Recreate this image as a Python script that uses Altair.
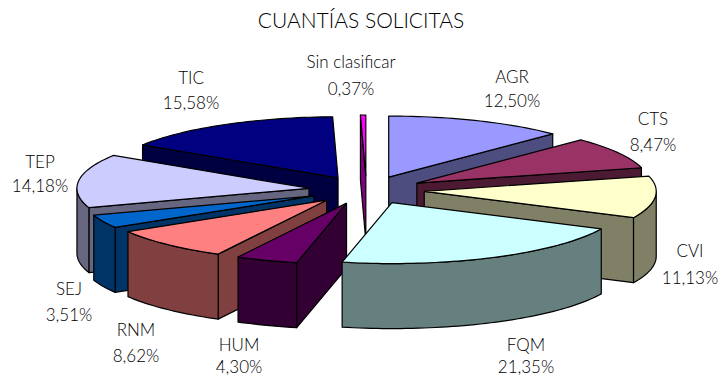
import math
import altair as alt
import pandas as pd

TITLE = "CUANTÍAS SOLICITAS"
categories = ["AGR", "CTS", "CVI", "FQM", "HUM", "RNM", "SEJ", "TEP", "TIC", "Sin clasificar"]
shares = [12.50, 8.47, 11.13, 21.35, 4.30, 8.62, 3.51, 14.18, 15.58, 0.37]
pct_labels = ["12,50%", "8,47%", "11,13%", "21,35%", "4,30%", "8,62%", "3,51%", "14,18%", "15,58%", "0,37%"]
top_colors = ["#9999FF", "#993366", "#FFFFCC", "#CCFFFF", "#660066", "#FF8080", "#0066CC", "#CCCCFF", "#000080", "#FF00FF"]
side_colors = ["#4D4D80", "#4D1A33", "#808066", "#668080", "#330033", "#804040", "#003366", "#666680", "#000040", "#800080"]

# Pie projection (orthographic ellipse), page pixel space
CX, CY = 366.5, 190
RX, RY = 232, 61
EX, EY = 58, 14
DEPTH = 65
DRAW_ORDER = [0, 8, 9, 1, 7, 2, 6, 5, 4, 3]
LABEL_POS = {  # centre x, name y, pct y
    "AGR": (512, 78, 102), "CTS": (653, 120, 146), "CVI": (690, 252, 279),
    "FQM": (526, 346, 368), "HUM": (239, 346, 368), "RNM": (136, 331, 357),
    "SEJ": (69, 290, 316), "TEP": (40, 163, 187), "TIC": (191, 79, 104),
    "Sin clasificar": (351, 63, 90),
}

total = sum(shares)
xs = alt.Scale(domain=[8, 720], range=[0, 712], nice=False, zero=False)
ys = alt.Scale(domain=[8, 377], range=[0, 369], nice=False, zero=False)


def poly(points, fill):
    pts = list(points) + [points[0]]
    df = pd.DataFrame({"px": [p[0] for p in pts], "py": [p[1] for p in pts], "i": range(len(pts))})
    return alt.Chart(df).mark_line(fill=fill, stroke="black", strokeWidth=1.2, strokeJoin="round", clip=False).encode(
        x=alt.X("px:Q", scale=xs, axis=None),
        y=alt.Y("py:Q", scale=ys, axis=None),
        order="i:Q",
    )


layers = []
starts = [sum(shares[:i]) / total * 2 * math.pi for i in range(len(shares))]
for idx in DRAW_ORDER:
    t1 = starts[idx]
    t2 = t1 + shares[idx] / total * 2 * math.pi
    mid = (t1 + t2) / 2
    ax, ay = CX + EX * math.sin(mid), CY - EY * math.cos(mid)
    rim = lambda t: (ax + RX * math.sin(t), ay - RY * math.cos(t))
    down = lambda p: (p[0], p[1] + DEPTH)
    steps = max(4, int((t2 - t1) * 40))
    arc = [t1 + (t2 - t1) * k / steps for k in range(steps + 1)]
    if math.sin(t1) < -1e-6:
        p = rim(t1)
        layers.append(poly([(ax, ay), p, down(p), (ax, ay + DEPTH)], side_colors[idx]))
    if math.sin(t2) > 1e-6:
        p = rim(t2)
        layers.append(poly([(ax, ay), p, down(p), (ax, ay + DEPTH)], side_colors[idx]))
    lo, hi = max(t1, math.pi / 2), min(t2, 3 * math.pi / 2)
    if hi > lo:
        n = max(3, int((hi - lo) * 40))
        near = [lo + (hi - lo) * k / n for k in range(n + 1)]
        upper = [rim(t) for t in near]
        layers.append(poly(upper + [down(p) for p in reversed(upper)], side_colors[idx]))
    layers.append(poly([(ax, ay)] + [rim(t) for t in arc], top_colors[idx]))

rows = [{"tx": 361, "ty": 22, "label": TITLE, "size": 21}]
for cat, pct in zip(categories, pct_labels):
    x, y1, y2 = LABEL_POS[cat]
    rows.append({"tx": x, "ty": y1, "label": cat, "size": 17})
    rows.append({"tx": x, "ty": y2, "label": pct, "size": 17})

text = alt.Chart(pd.DataFrame(rows)).mark_text(
    font="Lato", fontWeight=300, color="#000000", align="center", baseline="middle", clip=False
).encode(
    x=alt.X("tx:Q", scale=xs, axis=None),
    y=alt.Y("ty:Q", scale=ys, axis=None),
    text="label:N",
    size=alt.Size("size:Q", scale=None, legend=None),
)

chart = alt.layer(*layers, text).properties(
    width=712, height=369, padding=0, autosize=alt.AutoSizeParams(type="none"), background="white"
).configure_view(stroke=None)

chart.save("out.html", embed_options={"renderer": "svg", "actions": False})
